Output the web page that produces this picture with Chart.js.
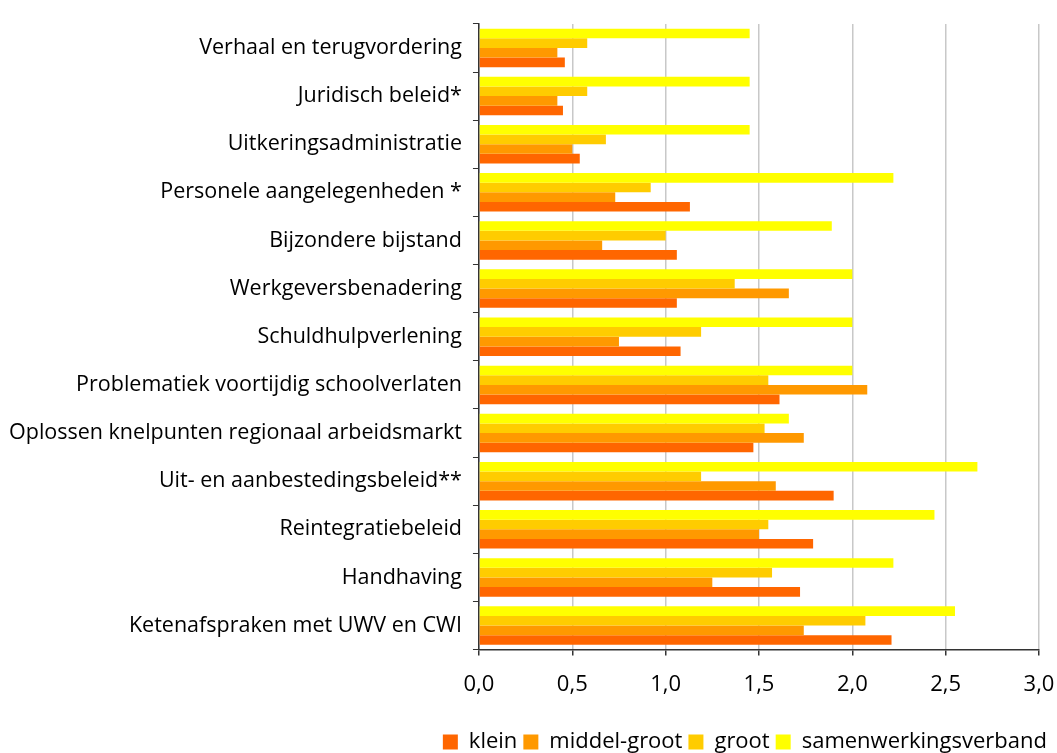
<!DOCTYPE html>
<html>
<head>
<meta charset="utf-8">
<script src="https://cdn.jsdelivr.net/npm/chart.js@4/dist/chart.umd.min.js"></script>
<style>
  html, body { margin: 0; padding: 0; background: #ffffff; }
  #wrap { width: 1057px; height: 753px; }
</style>
</head>
<body>
<div id="wrap"><canvas id="chart" width="1057" height="753"></canvas></div>
<script>
// Categories (top to bottom)
const categories = [
  "Verhaal en terugvordering",
  "Juridisch beleid*",
  "Uitkeringsadministratie",
  "Personele aangelegenheden *",
  "Bijzondere bijstand",
  "Werkgeversbenadering",
  "Schuldhulpverlening",
  "Problematiek voortijdig schoolverlaten",
  "Oplossen knelpunten regionaal arbeidsmarkt",
  "Uit- en aanbestedingsbeleid**",
  "Reintegratiebeleid",
  "Handhaving",
  "Ketenafspraken met UWV en CWI",
];

// Series values
const klein = [0.46, 0.45, 0.54, 1.13, 1.06, 1.06, 1.08, 1.61, 1.47, 1.9, 1.79, 1.72, 2.21];
const middelGroot = [0.42, 0.42, 0.5, 0.73, 0.66, 1.66, 0.75, 2.08, 1.74, 1.59, 1.5, 1.25, 1.74];
const groot = [0.58, 0.58, 0.68, 0.92, 1.0, 1.37, 1.19, 1.55, 1.53, 1.19, 1.55, 1.57, 2.07];
const samenwerkingsverband = [1.45, 1.45, 1.45, 2.22, 1.89, 2.0, 2.0, 2.0, 1.66, 2.67, 2.44, 2.22, 2.55];

// X axis ticks
const xTicks = [0, 0.5, 1.0, 1.5, 2.0, 2.5, 3.0];

const fontFamily = "'Open Sans', 'DejaVu Sans', sans-serif";

// Dataset order: top bar in each group first
const datasets = [
  { label: "samenwerkingsverband", data: samenwerkingsverband, backgroundColor: "#ffff00" },
  { label: "groot", data: groot, backgroundColor: "#ffcc00" },
  { label: "middel-groot", data: middelGroot, backgroundColor: "#ff9900" },
  { label: "klein", data: klein, backgroundColor: "#ff6600" },
].map((d) => ({
  ...d,
  borderWidth: 0,
  categoryPercentage: 0.8,
  barPercentage: 1.0,
}));

new Chart(document.getElementById("chart").getContext("2d"), {
  type: "bar",
  data: { labels: categories, datasets: datasets },
  options: {
    indexAxis: "y",
    responsive: false,
    animation: false,
    layout: { padding: { top: -7, left: -2, right: 4, bottom: -10 } },
    plugins: {
      tooltip: { enabled: false },
      legend: {
        position: "bottom",
        align: "end",
        reverse: true,
        labels: {
          boxWidth: 15,
          boxHeight: 15,
          padding: 6,
          color: "#000000",
          font: { family: fontFamily, size: 22, lineHeight: 1.0 },
        },
      },
    },
    scales: {
      x: {
        min: 0,
        max: 3,
        afterBuildTicks: (axis) => {
          axis.ticks = xTicks.map((v) => ({ value: v }));
        },
        afterFit: (axis) => {
          axis.height += 11;
          axis.paddingRight = 18;
          axis.paddingLeft = 0;
        },
        ticks: {
          color: "#000000",
          padding: 16,
          font: { family: fontFamily, size: 22 },
          callback: (v) => Number(v).toFixed(1).replace(".", ","),
        },
        grid: {
          color: "#c8c8c8",
          lineWidth: 1.5,
          tickColor: "#333333",
          tickLength: 6,
        },
        border: { color: "#333333", width: 1.5 },
      },
      y: {
        offset: true,
        ticks: {
          color: "#000000",
          padding: 11,
          font: { family: fontFamily, size: 21.5 },
        },
        grid: {
          offset: true,
          drawOnChartArea: false,
          tickColor: "#333333",
          tickLength: 6,
        },
        border: { color: "#333333", width: 1.5 },
      },
    },
  },
});
</script>
</body>
</html>
